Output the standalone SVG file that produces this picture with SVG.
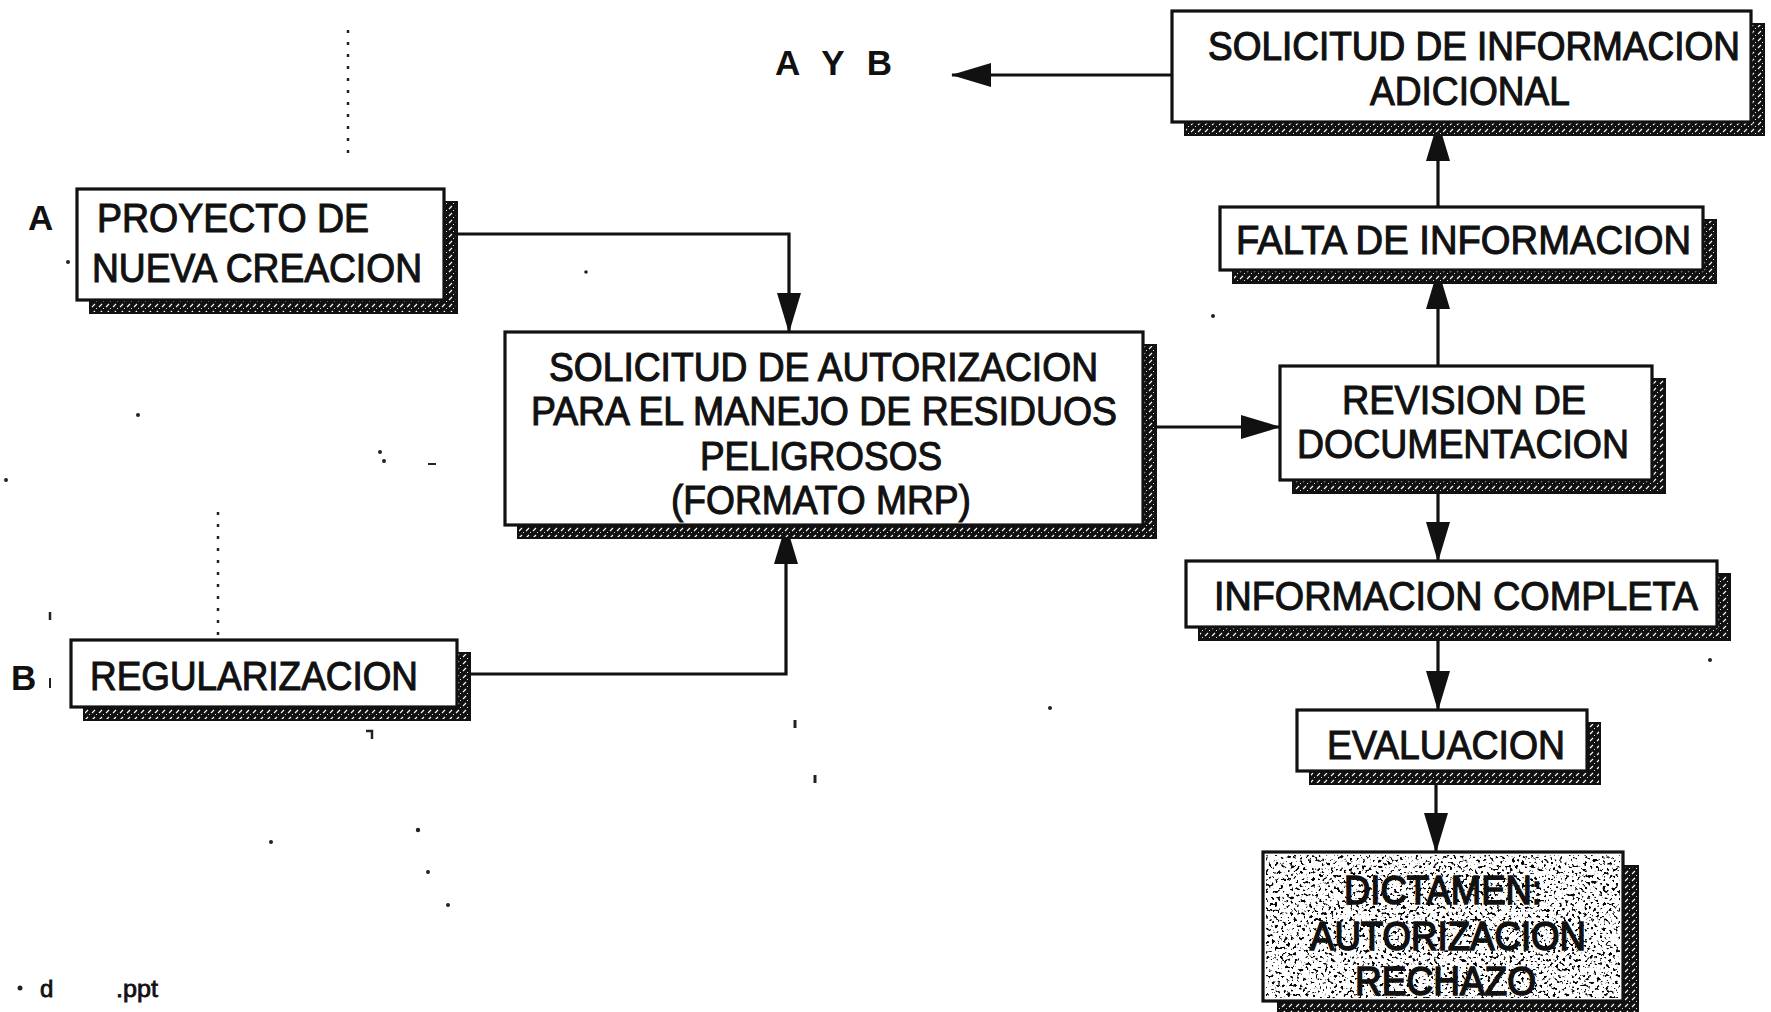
<svg xmlns="http://www.w3.org/2000/svg" width="1771" height="1012" viewBox="0 0 1771 1012">
<style>
.box{fill:#fff;stroke:#111;stroke-width:3.2}
.sh{fill:url(#hatch);stroke:#111;stroke-width:2}
.t{font-family:"Liberation Sans",Arial,sans-serif;font-size:41px;fill:#111;stroke:#111;stroke-width:1.1}
.lb{font-family:"Liberation Sans",Arial,sans-serif;font-size:35px;font-weight:bold;fill:#111}
.ft{font-family:"Liberation Sans",Arial,sans-serif;font-size:24px;fill:#111;stroke:#111;stroke-width:0.8}
.c{fill:none;stroke:#111;stroke-width:3.2}
.dot{fill:#222}
.dl{stroke:#222;stroke-width:2.5;stroke-dasharray:3 9;fill:none}
</style>
<defs>
<pattern id="hatch" width="7" height="7" patternUnits="userSpaceOnUse">
<rect width="7" height="7" fill="#111"/>
<path d="M1,6 L4,3" stroke="#fff" stroke-width="1.1"/>
<path d="M5,1 L6,0" stroke="#fff" stroke-width="0.9"/>
</pattern>
<filter id="speckle" x="0" y="0" width="100%" height="100%">
<feTurbulence type="fractalNoise" baseFrequency="0.32" numOctaves="2" seed="7" result="n"/>
<feColorMatrix in="n" type="matrix" values="0 0 0 0 0  0 0 0 0 0  0 0 0 0 0  -11 0 0 0 4.7"/>
</filter>
<marker id="ah" markerUnits="userSpaceOnUse" markerWidth="40" markerHeight="24" refX="39" refY="12" orient="auto">
<path d="M0,0 L40,12 L0,24 z" fill="#111"/>
</marker>
</defs>
<rect width="1771" height="1012" fill="#fff"/>

<g id="noise">
<path class="dl" d="M348,30 V160"/>
<path class="dl" d="M218,512 V636"/>
<circle class="dot" cx="68" cy="262" r="2"/>
<circle class="dot" cx="138" cy="415" r="2"/>
<circle class="dot" cx="380" cy="452" r="2"/>
<circle class="dot" cx="384" cy="461" r="2"/>
<path d="M428,464 h8" stroke="#222" stroke-width="2"/>
<circle class="dot" cx="6" cy="480" r="2"/>
<path d="M50,612 v8" stroke="#222" stroke-width="2.5"/>
<path d="M50,678 v10" stroke="#222" stroke-width="2"/>
<path d="M366,731 h6 v8" stroke="#222" stroke-width="2.5" fill="none"/>
<path d="M795,720 v8" stroke="#222" stroke-width="3"/>
<path d="M815,775 v8" stroke="#222" stroke-width="3"/>
<circle class="dot" cx="271" cy="842" r="2"/>
<circle class="dot" cx="418" cy="830" r="2.2"/>
<circle class="dot" cx="428" cy="872" r="2"/>
<circle class="dot" cx="448" cy="905" r="2"/>
<circle class="dot" cx="1050" cy="708" r="2"/>
<circle class="dot" cx="1213" cy="316" r="2"/>
<circle class="dot" cx="1710" cy="660" r="2"/>
<circle class="dot" cx="586" cy="272" r="1.8"/>
</g>

<g id="connectors">
<path class="c" d="M444,234 H789 V332" marker-end="url(#ah)"/>
<path class="c" d="M457,674 H786 V525" marker-end="url(#ah)"/>
<path class="c" d="M1143,427 H1280" marker-end="url(#ah)"/>
<path class="c" d="M1438,366 V270" marker-end="url(#ah)"/>
<path class="c" d="M1438,207 V122" marker-end="url(#ah)"/>
<path class="c" d="M1172,75 H952" marker-end="url(#ah)"/>
<path class="c" d="M1438,480 V561" marker-end="url(#ah)"/>
<path class="c" d="M1438,627 V710" marker-end="url(#ah)"/>
<path class="c" d="M1436,771 V852" marker-end="url(#ah)"/>
</g>

<g id="label-ayb"><text class="lb" x="775" y="75" textLength="117" lengthAdjust="spacing">A Y B</text></g>
<g id="label-a"><text class="lb" x="28" y="230">A</text></g>
<g id="label-b"><text class="lb" x="11" y="690">B</text></g>

<g id="node-proyecto">
<rect class="sh" x="90" y="202" width="367" height="111"/>
<rect class="box" x="77" y="189" width="367" height="111"/>
<text class="t" x="97" y="232" textLength="272" lengthAdjust="spacingAndGlyphs">PROYECTO DE</text>
<text class="t" x="92" y="282" textLength="330" lengthAdjust="spacingAndGlyphs">NUEVA CREACION</text>
</g>

<g id="node-regularizacion">
<rect class="sh" x="84" y="653" width="386" height="67"/>
<rect class="box" x="71" y="640" width="386" height="67"/>
<text class="t" x="90" y="690" textLength="328" lengthAdjust="spacingAndGlyphs">REGULARIZACION</text>
</g>

<g id="node-solicitud-autorizacion">
<rect class="sh" x="518" y="345" width="638" height="193"/>
<rect class="box" x="505" y="332" width="638" height="193"/>
<text class="t" x="549" y="381" textLength="549" lengthAdjust="spacingAndGlyphs">SOLICITUD DE AUTORIZACION</text>
<text class="t" x="531" y="425" textLength="586" lengthAdjust="spacingAndGlyphs">PARA EL MANEJO DE RESIDUOS</text>
<text class="t" x="700" y="470" textLength="242" lengthAdjust="spacingAndGlyphs">PELIGROSOS</text>
<text class="t" x="671" y="514" textLength="300" lengthAdjust="spacingAndGlyphs">(FORMATO MRP)</text>
</g>

<g id="node-revision">
<rect class="sh" x="1293" y="379" width="372" height="114"/>
<rect class="box" x="1280" y="366" width="372" height="114"/>
<text class="t" x="1342" y="414" textLength="244" lengthAdjust="spacingAndGlyphs">REVISION DE</text>
<text class="t" x="1297" y="458" textLength="332" lengthAdjust="spacingAndGlyphs">DOCUMENTACION</text>
</g>

<g id="node-falta">
<rect class="sh" x="1233" y="220" width="483" height="63"/>
<rect class="box" x="1220" y="207" width="483" height="63"/>
<text class="t" x="1236" y="254" textLength="455" lengthAdjust="spacingAndGlyphs">FALTA DE INFORMACION</text>
</g>

<g id="node-solicitud-adicional">
<rect class="sh" x="1185" y="24" width="579" height="111"/>
<rect class="box" x="1172" y="11" width="579" height="111"/>
<text class="t" transform="translate(1208,60) scale(1,1.09)" x="0" y="0" style="font-size:37.5px" textLength="532" lengthAdjust="spacingAndGlyphs">SOLICITUD DE INFORMACION</text>
<text class="t" x="1370" y="105" textLength="200" lengthAdjust="spacingAndGlyphs">ADICIONAL</text>
</g>

<g id="node-completa">
<rect class="sh" x="1199" y="574" width="531" height="66"/>
<rect class="box" x="1186" y="561" width="531" height="66"/>
<text class="t" x="1214" y="610" textLength="484" lengthAdjust="spacingAndGlyphs">INFORMACION COMPLETA</text>
</g>

<g id="node-evaluacion">
<rect class="sh" x="1310" y="723" width="290" height="61"/>
<rect class="box" x="1297" y="710" width="290" height="61"/>
<text class="t" x="1327" y="759" textLength="238" lengthAdjust="spacingAndGlyphs">EVALUACION</text>
</g>

<g id="node-dictamen">
<rect class="sh" x="1278" y="866" width="360" height="149"/>
<rect class="box" x="1263" y="852" width="360" height="149"/>
<rect x="1266" y="855" width="354" height="143" fill="#000" filter="url(#speckle)"/>
<text class="t" x="1344" y="904" textLength="198" lengthAdjust="spacingAndGlyphs" style="stroke-width:1.6">DICTAMEN:</text>
<text class="t" x="1310" y="950" textLength="276" lengthAdjust="spacingAndGlyphs" style="stroke-width:1.6">AUTORIZACION</text>
<text class="t" x="1355" y="995" textLength="181" lengthAdjust="spacingAndGlyphs" style="stroke-width:1.6">RECHAZO</text>
</g>

<g id="footer">
<circle class="dot" cx="20" cy="988" r="2.5"/>
<text class="ft" x="40" y="997">d</text>
<text class="ft" x="116" y="997" textLength="42" lengthAdjust="spacingAndGlyphs">.ppt</text>
</g>
</svg>
